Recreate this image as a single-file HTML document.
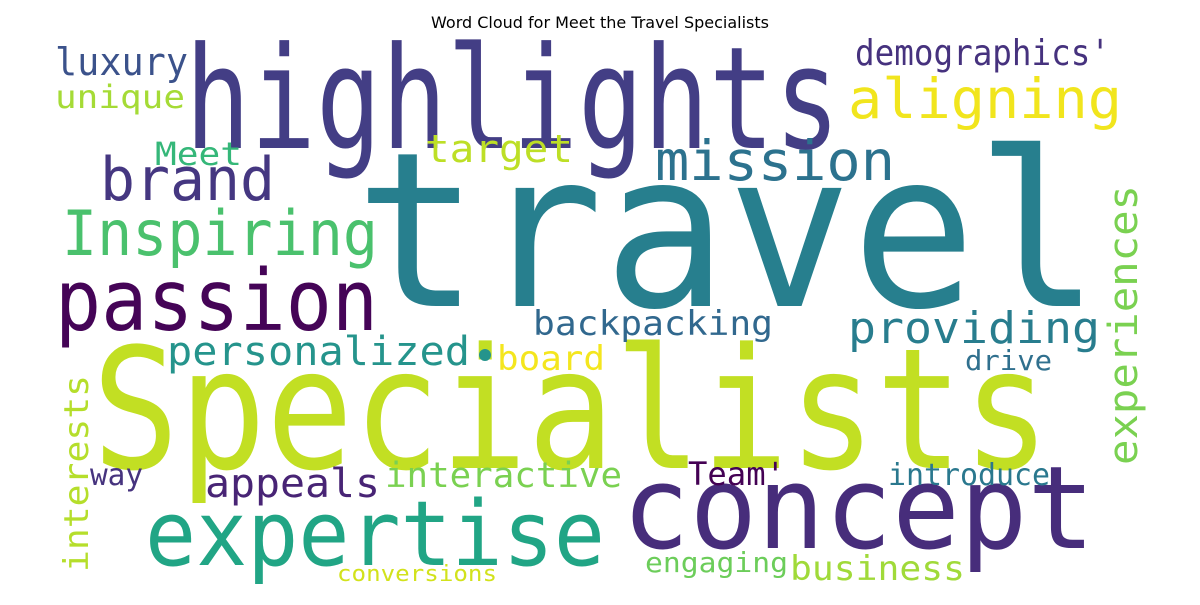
<!DOCTYPE html>
<html><head><meta charset="utf-8"><style>
body{margin:0;background:#fff}
svg text{font-family:"DejaVu Sans Mono","Liberation Mono",monospace}
</style></head><body>
<svg width="1200" height="600" viewBox="0 0 1200 600" xmlns="http://www.w3.org/2000/svg">
<rect width="1200" height="600" fill="#fff"/>
<text x="600" y="28" text-anchor="middle" style="font-family:'DejaVu Sans','Liberation Sans',sans-serif" font-size="16" fill="#000">Word Cloud for Meet the Travel Specialists</text>
<g>
<text x="185" y="148" font-size="142" textLength="655" lengthAdjust="spacingAndGlyphs" fill="#433e85">highlights</text>
<text x="355" y="306" font-size="216" textLength="745" lengthAdjust="spacingAndGlyphs" fill="#277f8e">travel</text>
<text x="92" y="468" font-size="168" textLength="958" lengthAdjust="spacingAndGlyphs" fill="#c2df23">Specialists</text>
<text x="622" y="548" font-size="115" textLength="473" lengthAdjust="spacingAndGlyphs" fill="#472d7b">concept</text>
<text x="145" y="565" font-size="90" textLength="460" lengthAdjust="spacingAndGlyphs" fill="#21a585">expertise</text>
<text x="55" y="330" font-size="85" textLength="323" lengthAdjust="spacingAndGlyphs" fill="#450457">passion</text>
<text x="62" y="255" font-size="62" textLength="316" lengthAdjust="spacingAndGlyphs" fill="#4ac16d">Inspiring</text>
<text x="100" y="200" font-size="60" textLength="175" lengthAdjust="spacingAndGlyphs" fill="#453781">brand</text>
<text x="655" y="180" font-size="55" textLength="240" lengthAdjust="spacingAndGlyphs" fill="#2c728e">mission</text>
<text x="848" y="118" font-size="55" textLength="274" lengthAdjust="spacingAndGlyphs" fill="#f1e51d">aligning</text>
<text x="855" y="65" font-size="36" textLength="255" lengthAdjust="spacingAndGlyphs" fill="#46327e">demographics'</text>
<text x="55" y="75" font-size="38" textLength="133" lengthAdjust="spacingAndGlyphs" fill="#3b528b">luxury</text>
<text x="55" y="108" font-size="32" textLength="130" lengthAdjust="spacingAndGlyphs" fill="#a5db36">unique</text>
<text x="155" y="165" font-size="32" textLength="87" lengthAdjust="spacingAndGlyphs" fill="#35b779">Meet</text>
<text x="425" y="162" font-size="38" textLength="148" lengthAdjust="spacingAndGlyphs" fill="#bddf26">target</text>
<text x="848" y="343" font-size="44" textLength="252" lengthAdjust="spacingAndGlyphs" fill="#287d8e">providing</text>
<text x="533" y="335" font-size="34" textLength="240" lengthAdjust="spacingAndGlyphs" fill="#31688e">backpacking</text>
<text x="167" y="365" font-size="40" textLength="303" lengthAdjust="spacingAndGlyphs" fill="#25948c">personalized</text>
<circle cx="485" cy="355" r="6" fill="#25948c"/>
<text x="497" y="370" font-size="34" textLength="108" lengthAdjust="spacingAndGlyphs" fill="#f4e61e">board</text>
<text x="965" y="370" font-size="28" textLength="87" lengthAdjust="spacingAndGlyphs" fill="#30708e">drive</text>
<text x="1137" y="465" font-size="40" textLength="280" lengthAdjust="spacingAndGlyphs" transform="rotate(-90 1137 465)" fill="#7ad151">experiences</text>
<text x="88" y="572" font-size="34" textLength="197" lengthAdjust="spacingAndGlyphs" transform="rotate(-90 88 572)" fill="#b5de2b">interests</text>
<text x="90" y="485" font-size="30" textLength="53" lengthAdjust="spacingAndGlyphs" fill="#46337e">way</text>
<text x="205" y="497" font-size="40" textLength="175" lengthAdjust="spacingAndGlyphs" fill="#482475">appeals</text>
<text x="385" y="487" font-size="35" textLength="237" lengthAdjust="spacingAndGlyphs" fill="#7ad151">interactive</text>
<text x="688" y="485" font-size="32" textLength="97" lengthAdjust="spacingAndGlyphs" fill="#440154">Team'</text>
<text x="888" y="485" font-size="30" textLength="162" lengthAdjust="spacingAndGlyphs" fill="#2a788e">introduce</text>
<text x="645" y="572" font-size="28" textLength="143" lengthAdjust="spacingAndGlyphs" fill="#6ccd5a">engaging</text>
<text x="790" y="580" font-size="34" textLength="175" lengthAdjust="spacingAndGlyphs" fill="#a0da39">business</text>
<text x="337" y="581" font-size="22" textLength="160" lengthAdjust="spacingAndGlyphs" fill="#d2e21b">conversions</text>
</g>
</svg>
</body></html>
